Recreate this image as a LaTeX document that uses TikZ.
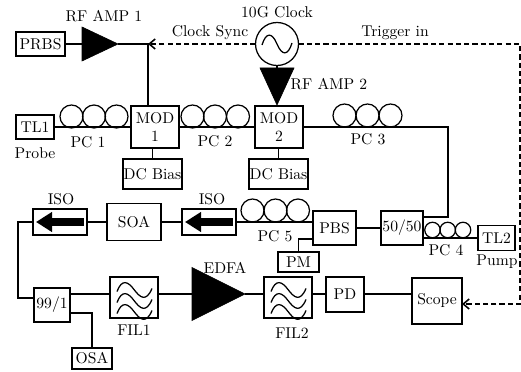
\documentclass[tikz,border=0pt]{standalone}
\usepackage{tikz}
\usetikzlibrary{arrows.meta,positioning,shapes.geometric}
% one reference pixel
\newcommand{\px}{0.64pt}
\newcommand{\filwaves}[1]{\draw[thick, shift={(#1)}]
  (-17,-6) .. controls (-12,-19) and (-6,-16) .. (0,-8) .. controls (6,0) and (12,5) .. (18,-9)
  (-17,5) .. controls (-12,-8) and (-6,-5) .. (0,3) .. controls (6,11) and (12,16) .. (18,2)
  (-17,16) .. controls (-12,3) and (-6,6) .. (0,14) .. controls (6,22) and (12,27) .. (18,13);}
\begin{document}
\begin{tikzpicture}[x=\px, y=-\px,
  box/.style 2 args={draw, thick, inner sep=0pt, outer sep=0pt, align=center, minimum width=#1*\px, minimum height=#2*\px},
  pcloop/.style={draw, thick, circle, inner sep=0pt, outer sep=0pt, minimum size=#1*\px},
  amp/.style 2 args={fill=black, draw=black, isosceles triangle, isosceles triangle stretches, inner sep=0pt, outer sep=0pt, minimum width=#1*\px, minimum height=#2*\px},
  line/.style={thick},
  isoarr/.style={-{Triangle[length=16*\px, width=19*\px]}, line width=8*\px, shorten <=3*\px, shorten >=3*\px},
  dasharr/.style={-{Straight Barb[length=6*\px, width=10*\px]}, line width=1pt, dash pattern=on 3.3pt off 2pt}]
\useasboundingbox (0,0) rectangle (521,371);
% top row
\node[box={49}{24}] (prbs) at (40.5,44) {PRBS};
\node[amp={34}{36}, anchor=apex] (amp1) at (118,44) {};
\node (amp1lab) at (104,16) {RF AMP 1};
\coordinate (junc1) at (148,44);
\node[circle, draw, thick, inner sep=0pt, outer sep=0pt, minimum size=43*\px] (clock) at (277,44) {};
\draw[thick, shift={(clock)}] (-15,1) .. controls (-11,-12) and (-5,-12) .. (0,0) .. controls (5,12) and (11,12) .. (15,-1);
\node (clocklab) at (277,12) {10G Clock};
\node (synclab) at (210,33) {Clock Sync};
\node (triglab) at (395,33) {Trigger in};
\node[amp={34}{37}, shape border rotate=270, anchor=apex] (amp2) at (277,105) {};
\node (amp2lab) at (329,84) {RF AMP 2};
% modulators
\node[box={38}{24}] (tl1) at (35,127) {TL1};
\node (probe) at (35,153) {Probe};
\node[box={48}{42}] (mod1) at (155,127) {MOD\\[-1pt]1};
\node[box={48}{42}] (mod2) at (279,127) {MOD\\[-1pt]2};
\node[box={59}{30}] (dc1) at (152.5,174) {DC Bias};
\node[box={59}{30}] (dc2) at (278.5,174) {DC Bias};
\node[pcloop=23] (pc1a) at (71.5,116.5) {};
\node[pcloop=23] (pc1b) at (94,116.5) {};
\node[pcloop=23] (pc1c) at (116.5,116.5) {};
\node (pc1lab) at (88,142) {PC 1};
\node[pcloop=23] (pc2a) at (192.5,116.5) {};
\node[pcloop=23] (pc2b) at (215,116.5) {};
\node[pcloop=23] (pc2c) at (238,116.5) {};
\node (pc2lab) at (215,141) {PC 2};
\node[pcloop=23] (pc3a) at (344.5,115.5) {};
\node[pcloop=23] (pc3b) at (367.5,115.5) {};
\node[pcloop=23] (pc3c) at (390.5,115.5) {};
\node (pc3lab) at (368,139) {PC 3};
\coordinate (corner3) at (448,127);
% middle row
\node[box={43}{34}] (pbs) at (334.5,228) {PBS};
\node[box={42}{34}] (split) at (402,228) {50/50};
\node[box={37}{25}] (tl2) at (496.5,238) {TL2};
\node (pump) at (497,262) {Pump};
\node[box={41}{20}] (pm) at (298.5,262) {PM};
\node[pcloop=15.5] (pc4a) at (432.5,230) {};
\node[pcloop=15.5] (pc4b) at (447.7,230) {};
\node[pcloop=15.5] (pc4c) at (463,230) {};
\node (pc4lab) at (446,250) {PC 4};
\node[pcloop=23] (pc5a) at (252.5,210.5) {};
\node[pcloop=23] (pc5b) at (275.5,210.5) {};
\node[pcloop=23] (pc5c) at (298,210.5) {};
\node (pc5lab) at (275,236) {PC 5};
\node[box={54}{26}] (iso2) at (209,222) {};
\node (iso2lab) at (212,199) {ISO};
\node[box={54}{37}] (soa) at (134,222) {SOA};
\node[box={54}{26}] (iso1) at (60,222) {};
\node (iso1lab) at (61,199) {ISO};
% bottom row
\node[box={36}{34}] (coupler) at (52,305) {99/1};
\node[box={40}{21}] (osa) at (92,358.5) {OSA};
\node[box={48}{41}] (fil1) at (134,297.5) {};
\node (fil1lab) at (134,330) {FIL1};
\node[amp={53}{53}, anchor=apex] (edfa) at (245,294) {};
\node (edfalab) at (225,268) {EDFA};
\node[box={48}{41}] (fil2) at (288,297.5) {};
\node (fil2lab) at (292,333) {FIL2};
\node[box={38}{35}] (pd) at (345,294.5) {PD};
\node[box={50}{46}] (scope) at (437,301) {Scope};
\filwaves{fil1}
\filwaves{fil2}
\coordinate (splitin) at (423,217);
\coordinate (pbsout) at (313,239);
\coordinate (ringl) at (18,298);
\coordinate (tapout) at (70,313);
\coordinate (trigend) at (520,304);
\coordinate (scopein) at (462,304);
% fibre and rf lines
\draw[line] (prbs) -- (amp1);
\draw[line] (amp1.apex) -- (junc1) -- (junc1 |- mod1.north);
\draw[dasharr] (clock.west) -- (junc1);
\draw[dasharr] (clock.east) -| (trigend) -- (scopein);
\draw[line] (clock.south) -- (clock.south |- amp2.left side);
\draw[line] (tl1) -- (mod1);
\draw[line] (mod1) -- (mod2);
\draw[line] (mod1.south -| dc1.north) -- (dc1.north);
\draw[line] (mod2.south -| dc2.north) -- (dc2.north);
\draw[line] (mod2.east) -- (corner3) |- (splitin);
\draw[line] (pbs) -- (split);
\draw[line] (split.east |- tl2.west) -- (tl2.west);
\draw[line] (pbsout) -| (pm.north);
\draw[line] (iso2.east) -- (iso2.east -| pbs.west);
\draw[line] (iso2) -- (soa);
\draw[line] (soa) -- (iso1);
\draw[line] (iso1.west) -| (ringl) -- (ringl -| coupler.west);
\draw[line] (coupler.east |- edfa.apex) -- (fil1.west |- edfa.apex);
\draw[line] (fil1.east |- edfa.apex) -- (edfa.apex -| edfa.left side);
\draw[line] (edfa.apex) -- (fil2.west |- edfa.apex);
\draw[line] (fil2.east |- edfa.apex) -- (pd.west |- edfa.apex);
\draw[line] (pd.east |- edfa.apex) -- (scope.west |- edfa.apex);
\draw[line] (tapout) -| (osa.north);
\draw[isoarr] (iso1.east) -- (iso1.west);
\draw[isoarr] (iso2.east) -- (iso2.west);
\end{tikzpicture}
\end{document}
